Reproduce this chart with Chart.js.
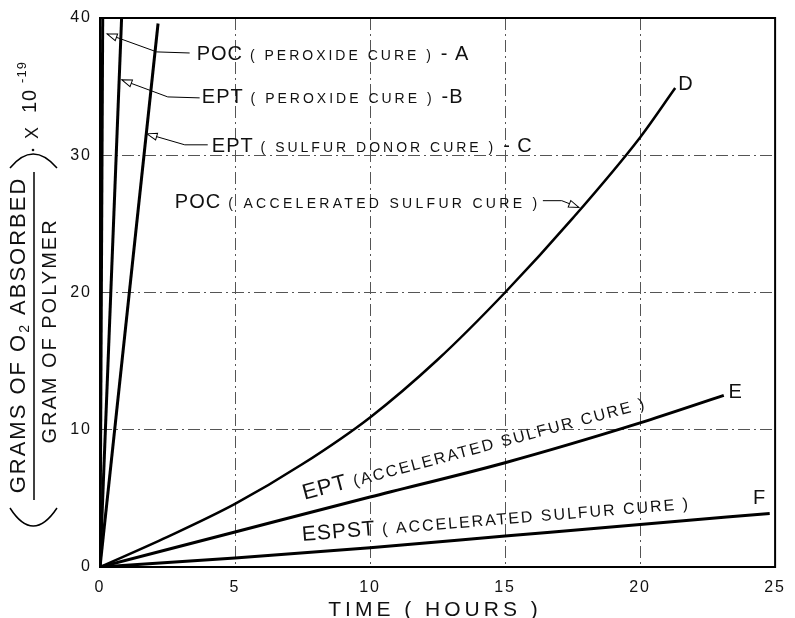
<!DOCTYPE html>
<html>
<head>
<meta charset="utf-8">
<script src="https://cdn.jsdelivr.net/npm/chart.js@4.4.0/dist/chart.umd.min.js"></script>
<style>
  body { margin: 0; background: #fff; }
  canvas { display: block; }
</style>
</head>
<body>
<canvas id="graph" width="795" height="618"></canvas>
<script>
// tick values
var xTicks = [0, 5, 10, 15, 20, 25];
var yTicks = [0, 10, 20, 30, 40];

// time (hours) / grams O2 absorbed per gram polymer (x 10^-19)
var hoursA = [0, 0.1];
var oxyA   = [0, 40];
var hoursB = [0, 0.8];
var oxyB   = [0, 40];
var hoursC = [0, 2.15];
var oxyC   = [0, 39.6];
var hoursD = [0, 2.5, 5, 7.5, 10, 12.5, 15, 17.5, 20, 21.3];
var oxyD   = [0, 2.2, 4.6, 7.5, 10.9, 15.1, 20, 25.4, 31.3, 34.9];
var hoursE = [0, 5, 10, 15, 20, 23.1];
var oxyE   = [0, 2.55, 5.1, 7.6, 10.5, 12.5];
var hoursF = [0, 5, 10, 15, 20, 24.8];
var oxyF   = [0, 0.65, 1.4, 2.25, 3.1, 3.9];

var FONT = '"Liberation Sans", Arial, sans-serif';

function pts(xs, ys) {
  return xs.map(function(x, i) { return { x: x, y: ys[i] }; });
}
function curve(xs, ys, smooth, w) {
  return {
    data: pts(xs, ys),
    borderColor: '#000',
    borderWidth: w || 3,
    pointRadius: 0,
    fill: false,
    tension: smooth ? 0.4 : 0,
    cubicInterpolationMode: smooth ? 'monotone' : 'default'
  };
}

// draw text made of runs of different sizes
function runs(ctx, x, y, list, ang, align) {
  ctx.save();
  ctx.translate(x, y);
  if (ang) ctx.rotate(ang);
  var total = 0;
  list.forEach(function(r) {
    ctx.font = r[1] + 'px ' + FONT;
    ctx.letterSpacing = '0px';
    r.w = ctx.measureText(r[0]).width + r[2] * r[0].length;
    total += r.w;
  });
  var cx = align === 'center' ? -total / 2 : 0;
  ctx.textAlign = 'left';
  list.forEach(function(r) {
    ctx.font = r[1] + 'px ' + FONT;
    ctx.letterSpacing = r[2] + 'px';
    ctx.fillText(r[0], cx, r[3] || 0);
    cx += r.w;
  });
  ctx.restore();
}

function arrowHead(ctx, fx, fy, tx, ty) {
  var a = Math.atan2(ty - fy, tx - fx);
  var len = 10, hw = 3.5;
  ctx.save();
  ctx.translate(tx, ty);
  ctx.rotate(a);
  ctx.beginPath();
  ctx.moveTo(0, 0);
  ctx.lineTo(-len, -hw);
  ctx.lineTo(-len, hw);
  ctx.closePath();
  ctx.fillStyle = '#fff';
  ctx.fill();
  ctx.lineWidth = 1;
  ctx.strokeStyle = '#000';
  ctx.stroke();
  ctx.restore();
}

var paper = {
  id: 'paper',
  beforeDraw: function(chart) {
    chart.ctx.letterSpacing = '2px';
  },
  afterDraw: function(chart) {
    var ctx = chart.ctx, a = chart.chartArea;
    var xs = chart.scales.x, ys = chart.scales.y;
    function px(v) { return xs.getPixelForValue(v); }
    function py(v) { return ys.getPixelForValue(v); }

    ctx.save();
    ctx.fillStyle = '#111';
    ctx.strokeStyle = '#000';

    // frame
    ctx.lineWidth = 2;
    ctx.setLineDash([]);
    ctx.strokeRect(a.left, a.top, a.right - a.left, a.bottom - a.top);

    // leader lines with arrows
    var leaders = [
      [[3.32, 37.45], [2.10, 37.53], [0.26, 38.84]],
      [[3.69, 34.18], [2.51, 34.25], [0.81, 35.49]],
      [[3.99, 30.76], [3.14, 30.76], [1.74, 31.56]],
      [[16.4, 26.69], [17.10, 26.69], [17.73, 26.2]]
    ];
    leaders.forEach(function(l) {
      ctx.beginPath();
      ctx.lineWidth = 1;
      l.forEach(function(p, i) {
        if (i === 0) ctx.moveTo(px(p[0]), py(p[1]));
        else ctx.lineTo(px(p[0]), py(p[1]));
      });
      ctx.stroke();
      var p1 = l[l.length - 2], p2 = l[l.length - 1];
      arrowHead(ctx, px(p1[0]), py(p1[1]), px(p2[0]), py(p2[1]));
    });

    ctx.textBaseline = 'alphabetic';
    runs(ctx, px(3.58), py(36.95), [['POC', 20, 1], [' ( PEROXIDE CURE ) ', 14, 3], ['- A', 20, 1]]);
    runs(ctx, px(3.77), py(33.82), [['EPT', 20, 1], [' ( PEROXIDE CURE ) ', 14, 3], ['-B', 20, 1]]);
    runs(ctx, px(4.14), py(30.25), [['EPT', 20, 1], [' ( SULFUR DONOR CURE ) ', 14, 3], ['- C', 20, 1]]);
    runs(ctx, px(2.77), py(26.18), [['POC', 20, 1], [' ( ACCELERATED SULFUR CURE )', 14, 3.3]]);
    runs(ctx, px(7.57), py(4.9), [['EPT', 22, 1], [' (ACCELERATED SULFUR CURE )', 16, 2]], -15 * Math.PI / 180);
    runs(ctx, px(7.50), py(1.9), [['ESPST', 21, 1], [' ( ACCELERATED SULFUR CURE )', 16, 2]], -4.75 * Math.PI / 180);

    // curve letters
    ctx.textBaseline = 'middle';
    runs(ctx, px(21.68), py(35.13), [['D', 20, 0]], 0, 'center');
    runs(ctx, px(23.52), py(12.73), [['E', 20, 0]], 0, 'center');
    runs(ctx, px(24.41), py(5.02), [['F', 20, 0]], 0, 'center');

    // x axis title
    ctx.textBaseline = 'alphabetic';
    runs(ctx, 435, 616, [['TIME ( HOURS )', 21, 4]], 0, 'center');

    // y axis title (fraction)
    var rot = -Math.PI / 2;
    ctx.textBaseline = 'middle';
    runs(ctx, 19, 335, [['GRAMS OF O', 22, 2], ['2', 14, 2, 6], [' ABSORBED', 22, 2]], rot, 'center');
    runs(ctx, 50, 331, [['GRAM OF POLYMER', 20, 2]], rot, 'center');
    ctx.lineWidth = 1.5;
    ctx.beginPath();
    ctx.moveTo(34, 172);
    ctx.lineTo(34, 500);
    ctx.stroke();
    // parentheses
    ctx.beginPath();
    ctx.moveTo(10, 168);
    ctx.quadraticCurveTo(33, 140, 57, 168);
    ctx.stroke();
    ctx.beginPath();
    ctx.moveTo(10, 508);
    ctx.quadraticCurveTo(33, 544, 57, 508);
    ctx.stroke();
    ctx.beginPath();
    ctx.arc(33, 150, 1.3, 0, Math.PI * 2);
    ctx.fill();
    runs(ctx, 33, 133, [['X', 18, 0]], rot, 'center');
    runs(ctx, 30, 101, [['10', 20, 1]], rot, 'center');
    runs(ctx, 22, 72, [['-19', 13, 1]], rot, 'center');

    ctx.restore();
  }
};

var ctx = document.getElementById('graph').getContext('2d');
var chart = new Chart(ctx, {
  type: 'line',
  data: {
    datasets: [
      curve(hoursA, oxyA, false, 3),
      curve(hoursB, oxyB, false, 3),
      curve(hoursC, oxyC, false, 3),
      curve(hoursD, oxyD, true, 2.5),
      curve(hoursE, oxyE, true, 3),
      curve(hoursF, oxyF, true, 3)
    ]
  },
  options: {
    responsive: false,
    animation: false,
    devicePixelRatio: 1,
    layout: { padding: { top: 18, right: 18, left: 0, bottom: 0 } },
    plugins: {
      legend: { display: false },
      tooltip: { enabled: false }
    },
    scales: {
      x: {
        type: 'linear',
        min: 0,
        max: 25,
        afterBuildTicks: function(s) { s.ticks = xTicks.map(function(v) { return { value: v }; }); },
        afterFit: function(s) { s.height = 51; },
        grid: { color: '#555', lineWidth: 1, drawTicks: false },
        border: { display: false, dash: [12, 4, 2, 4] },
        ticks: {
          color: '#111',
          autoSkip: false,
          maxRotation: 0,
          padding: 11,
          font: { family: FONT, size: 16 }
        }
      },
      y: {
        type: 'linear',
        min: 0,
        max: 40,
        afterBuildTicks: function(s) { s.ticks = yTicks.map(function(v) { return { value: v }; }); },
        afterFit: function(s) { s.width = 100; },
        grid: { color: '#555', lineWidth: 1, drawTicks: false },
        border: { display: false, dash: [12, 4, 2, 4] },
        ticks: {
          color: '#111',
          padding: 8,
          font: { family: FONT, size: 16 }
        }
      }
    }
  },
  plugins: [paper]
});
</script>
</body>
</html>
